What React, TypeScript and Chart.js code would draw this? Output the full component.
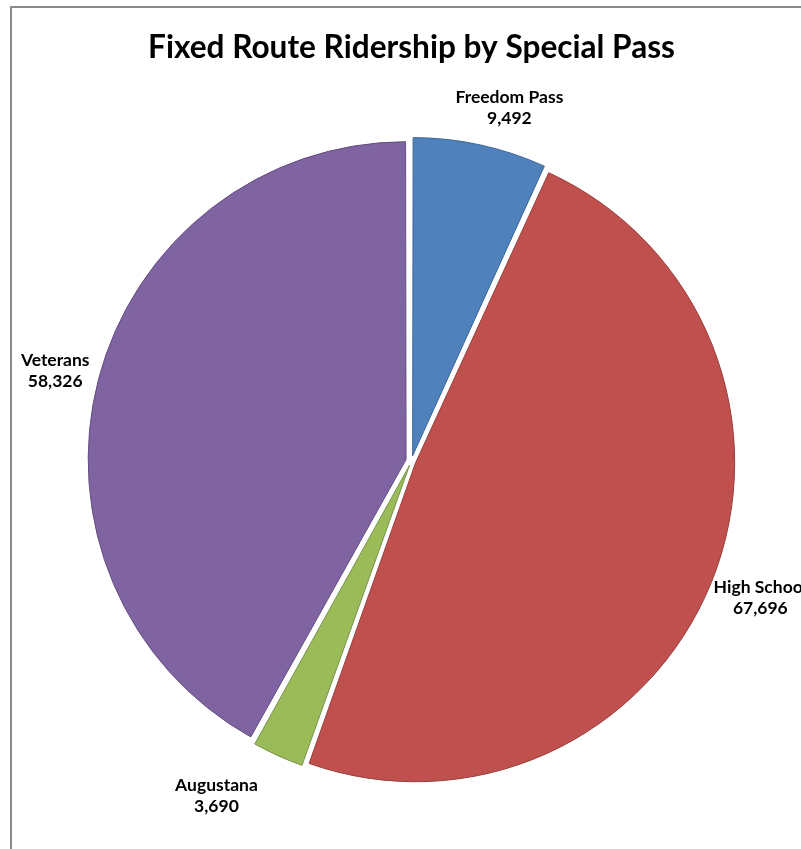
import { useEffect, useRef } from "react";
import { Chart, registerables } from "chart.js";

Chart.register(...registerables);

const titleText = "Fixed Route Ridership by Special Pass";
const categories = ["Freedom Pass", "High School", "Augustana", "Veterans"];
const riders = [9492, 67696, 3690, 58326];
const sliceColors = ["#4F81BD", "#C0504D", "#9BBB59", "#8064A2"];
const sliceBorders = ["#3B6595", "#963E3B", "#76924A", "#634D80"];
// small manual nudges of the data labels (dx, dy in px), as in the original layout
const labelNudgeX = [20, -8, -42, 4];
const labelNudgeY = [-2, -14, -9, -3];

const FONT = "Lato, 'Open Sans', sans-serif";
const EXPLODE = 8.5; // px each slice is pulled out

// Chart.js translates an arc by offset/4 * (2 - sin(min(PI, circumference)));
// choose the offset so every slice moves by EXPLODE pixels.
const total = riders.reduce((a, b) => a + b, 0);
const sliceOffsets = riders.map((v) => {
  const circ = (2 * Math.PI * v) / total;
  const k = 2 - Math.sin(Math.min(Math.PI, circ));
  return (EXPLODE * 4) / k;
});

const decorPlugin = {
  id: "decor",
  afterDraw(chart: any) {
    const ctx: CanvasRenderingContext2D = chart.ctx;
    ctx.save();
    ctx.font = `bold 100px ${FONT}`;
    const tw = ctx.measureText(titleText).width;
    const tSize = (100 * 527) / tw;
    ctx.font = `bold ${tSize}px ${FONT}`;
    ctx.fillStyle = "#000";
    ctx.textAlign = "center";
    ctx.textBaseline = "alphabetic";
    ctx.fillText(titleText, 411.5, 58);

    ctx.font = `bold 100px ${FONT}`;
    const lw = ctx.measureText("Freedom Pass").width;
    const lSize = (100 * 108) / lw;
    ctx.font = `bold ${lSize}px ${FONT}`;
    ctx.textBaseline = "middle";
    const lineH = 21;
    const meta = chart.getDatasetMeta(0);
    const data = chart.data.datasets[0].data as number[];
    meta.data.forEach((arc: any, i: number) => {
      const p = arc.getProps(["x", "y", "startAngle", "endAngle", "outerRadius"], true);
      const mid = (p.startAngle + p.endAngle) / 2;
      const l1 = chart.data.labels[i] as string;
      const l2 = data[i].toLocaleString("en-US");
      const w = Math.max(ctx.measureText(l1).width, ctx.measureText(l2).width);
      const h = 44;
      const c = Math.cos(mid);
      const s = Math.sin(mid);
      const D = p.outerRadius + EXPLODE + 10 + Math.abs(c) * (w / 2) + Math.abs(s) * (h / 2);
      const cx = p.x + D * c + labelNudgeX[i];
      const cy = p.y + D * s + labelNudgeY[i];
      ctx.fillText(l1, cx, cy - 4);
      ctx.fillText(l2, cx, cy + lineH - 4);
    });
    ctx.restore();
  },
};

export default function App() {
  const ref = useRef<HTMLCanvasElement | null>(null);
  useEffect(() => {
    if (!ref.current) return;
    const chart = new Chart(ref.current, {
      type: "pie",
      data: {
        labels: categories,
        datasets: [
          {
            data: riders,
            backgroundColor: sliceColors,
            borderColor: sliceBorders,
            borderWidth: 1,
            offset: sliceOffsets,
          },
        ],
      },
      options: {
        responsive: false,
        animation: false,
        radius: 315,
        layout: { padding: { left: 22, right: 0, top: 73, bottom: 0 } },
        plugins: {
          legend: { display: false },
          title: { display: false },
          tooltip: { enabled: false },
        },
      } as any,
      plugins: [decorPlugin],
    });
    return () => chart.destroy();
  }, []);
  return (
    <div style={{ position: "fixed", left: 0, top: 0, width: 801, height: 849, overflow: "hidden", background: "#fff" }}>
      <div
        style={{
          position: "absolute",
          left: 10,
          top: 6,
          width: 791,
          height: 843,
          borderLeft: "2px solid #8a8a8a",
          borderTop: "2px solid #8a8a8a",
          boxSizing: "border-box",
        }}
      />
      <canvas ref={ref} width={801} height={849} style={{ position: "absolute", left: 0, top: 0 }} />
    </div>
  );
}
